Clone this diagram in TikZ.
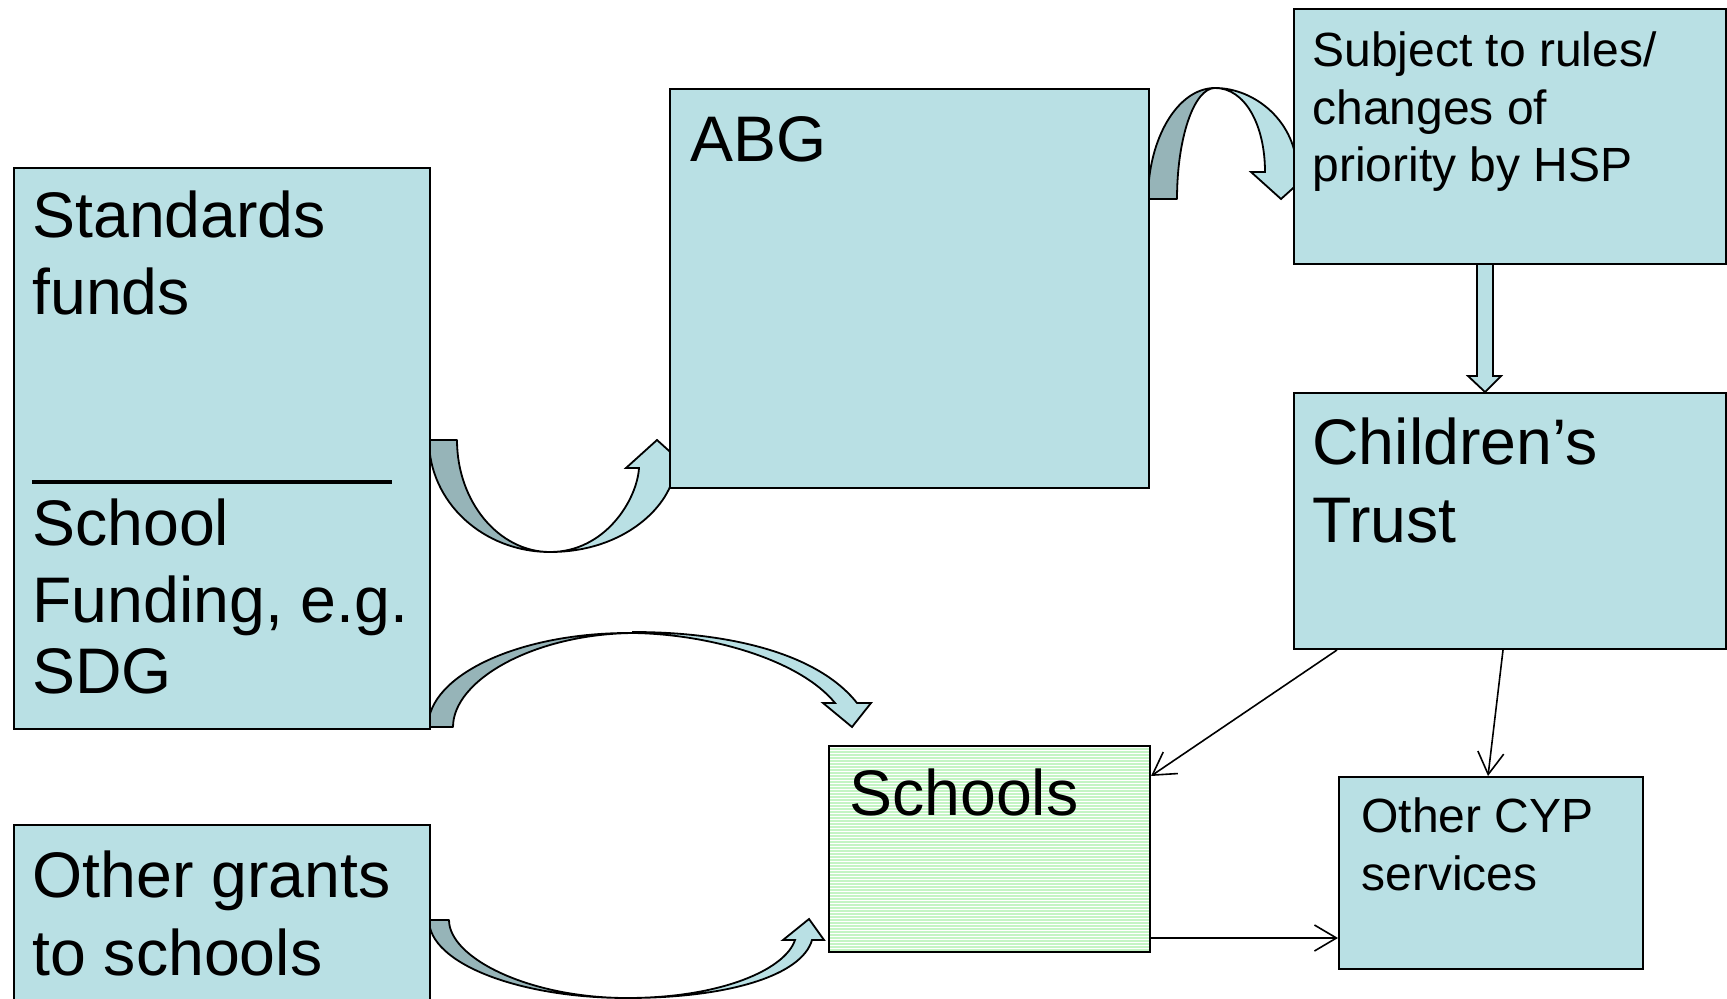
\documentclass[tikz,border=0pt]{standalone}
\usepackage{fontspec}
\setmainfont{Liberation Sans}
\usetikzlibrary{calc,arrows.meta}
\definecolor{boxfill}{HTML}{B9E0E4}
\definecolor{darkband}{HTML}{96B4B8}
\definecolor{schoolgreen}{HTML}{C4F4C4}
\tikzset{
  box/.style={draw=black, line width=1pt, fill=boxfill, rectangle, inner sep=0pt, anchor=north west},
  bigtext/.style={font=\fontsize{32.2}{38.75}\selectfont, align=left, inner sep=0pt, anchor=base west},
  smalltext/.style={font=\fontsize{24}{28.75}\selectfont, align=left, inner sep=0pt, anchor=base west},
  darkpart/.style={fill=darkband, draw=black, line width=0.9pt, line join=round},
  lightpart/.style={fill=boxfill, draw=black, line width=0.9pt, line join=miter},
  thinarrow/.style={draw=black, line width=0.8pt, -{Straight Barb[length=11pt,width=13pt]}},
}
\begin{document}
\begin{tikzpicture}[x=0.5pt, y=-0.5pt]
\useasboundingbox (0,0) rectangle (1727,999);
% ---- block arrows (behind boxes) ----
% Standards -> ABG
\path[lightpart] (550,552) .. controls (605,552) and (637,500) .. (639,468) -- (626,468) -- (657,440) -- (688,468) -- (675,468) .. controls (672,505) and (625,552) .. (550,552) -- cycle;
\path[darkpart] (429,440) -- (457,440) .. controls (457,502) and (499,552) .. (550,552) .. controls (483,552) and (429,502) .. (429,440) -- cycle;
% ABG -> Subject
\path[lightpart] (1215,88) .. controls (1245,88) and (1265,125) .. (1265,172) -- (1251,172) -- (1281,199) -- (1311,172) -- (1297,172) .. controls (1297,122) and (1255,88) .. (1215,88) -- cycle;
\path[darkpart] (1148,199) -- (1177,199) .. controls (1177,138) and (1194,88) .. (1215,88) .. controls (1178,88) and (1148,138) .. (1148,199) -- cycle;
% SDG -> Schools
\path[lightpart] (633,633) .. controls (710,634) and (800,660) .. (835,703) -- (823,703) -- (852,727) -- (871,703) -- (857,703) .. controls (815,650) and (720,632) .. (633,632) -- cycle;
\path[darkpart] (428,727) -- (453,727) .. controls (453,680) and (534,634) .. (633,633) .. controls (520,632) and (428,675) .. (428,727) -- cycle;
% Other grants -> Schools
\path[lightpart] (627,998) .. controls (720,998) and (785,970) .. (795,940) -- (783,940) -- (809,919) -- (824,940) -- (812,940) .. controls (802,975) and (730,998) .. (627,998) -- cycle;
\path[darkpart] (429,920) -- (449,920) .. controls (449,958) and (529,998) .. (627,998) .. controls (518,998) and (429,963) .. (429,920) -- cycle;
% Subject -> Children's Trust
\path[lightpart] (1477,258) -- (1477,376) -- (1468,376) -- (1485,392) -- (1501,376) -- (1493,376) -- (1493,258) -- cycle;
% ---- boxes ----
\node[box, minimum width=208pt, minimum height=280.5pt] (sf) at (13,167) {};
\node[box, minimum width=239.5pt, minimum height=199.5pt] (abg) at (669,88) {};
\node[box, minimum width=216pt, minimum height=127.5pt] (sub) at (1293,8) {};
\node[box, minimum width=216pt, minimum height=128pt] (ct) at (1293,392) {};
\node[box, fill=schoolgreen, minimum width=160.5pt, minimum height=103pt,
  path picture={\foreach \i in {0,...,70}
    \draw[white, line width=0.5pt] ($(path picture bounding box.north west)+(-5,\i*3+1.5)$) -- ++(340,0);}] (sc) at (828,745) {};
\node[box, minimum width=152pt, minimum height=96pt] (cyp) at (1338,776) {};
\node[box, minimum width=208pt, minimum height=100pt] (og) at (13,824) {};
\draw[line width=1.6pt] ($(sf.north west)+(19,315)$) -- ($(sf.north west)+(379,315)$);
% ---- texts (anchored at the baseline of their last line) ----
\node[bigtext] (t1) at (32,315) {Standards\\funds};
\node[bigtext] (t2) at (32,693) {School\\Funding, e.g.\\[-3.5pt]SDG};
\node[bigtext] (t3) at (690,162) {ABG};
\node[smalltext] (t4) at (1312,182) {Subject to rules/\\changes of\\priority by HSP};
\node[bigtext] (t5) at (1312,542) {Children’s\\Trust};
\node[bigtext] (t6) at (849,815) {Schools};
\node[smalltext] (t7) at (1361,890) {Other CYP\\services};
\node[bigtext] (t8) at (32,975) {Other grants\\to schools};
% ---- thin connectors ----
\draw[thinarrow] ($(ct.south west)+(44,0)$) -- ($(sc.north east)+(0,31)$);
\draw[thinarrow] ($(ct.south west)+(210,0)$) -- ($(cyp.north west)+(150,0)$);
\draw[thinarrow] ($(sc.south east)+(0,-15)$) -- ($(cyp.south west)+(0,-32)$);
\end{tikzpicture}
\end{document}
